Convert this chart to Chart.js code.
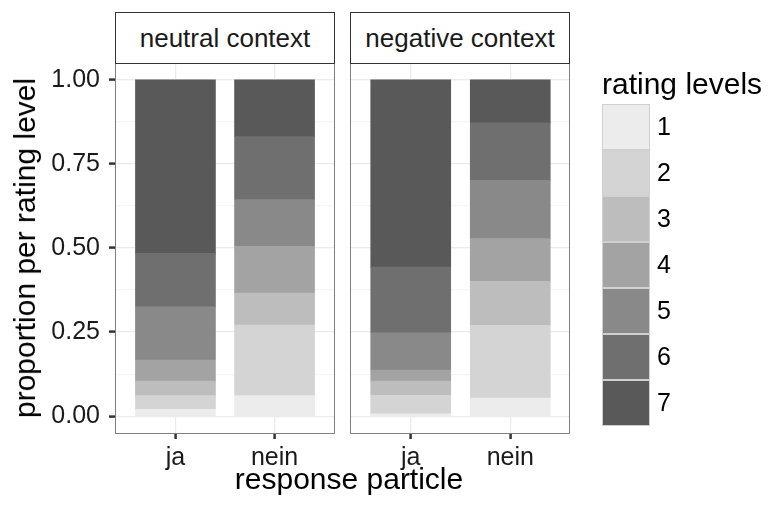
<!DOCTYPE html>
<html>
<head>
<meta charset="utf-8">
<script src="https://cdn.jsdelivr.net/npm/chart.js@4.4.1/dist/chart.umd.min.js"></script>
<style>
  body { margin: 0; background: #fff; }
  #wrap { position: relative; width: 774px; height: 510px; font-family: "Liberation Sans", Arial, sans-serif; color: #1a1a1a; }
  canvas { position: absolute; left: 0; top: 0; }
  .strip { position: absolute; top: 12px; height: 50px; border: 1px solid #333; background: #fff;
           font-size: 26px; text-align: center; line-height: 50px; color: #1a1a1a; }
  .panel { position: absolute; top: 63px; height: 369px; border: 1.5px solid #7f7f7f; pointer-events: none; }
  .title { position: absolute; font-size: 30px; white-space: nowrap; color: #000; }
  #legend { position: absolute; left: 602px; top: 104px; }
  .key { position: relative; width: 46px; height: 44px; border: 1px solid #d0d0d0; }
  .key span { position: absolute; left: 54px; top: 7px; font-size: 25px; color: #000; }
</style>
</head>
<body>
<div id="wrap">
  <canvas id="left" width="774" height="510"></canvas>
  <canvas id="right" width="774" height="510"></canvas>
  <div class="panel" style="left:115px;width:218px"></div>
  <div class="panel" style="left:350px;width:218px"></div>
  <div class="strip" style="left:115px;width:218px">neutral context</div>
  <div class="strip" style="left:350px;width:218px">negative context</div>
  <div class="title" style="left:349px;top:462px;transform:translateX(-50%)">response particle</div>
  <div class="title" style="left:25px;top:248px;transform:translate(-50%,-50%) rotate(-90deg)">proportion per rating level</div>
  <div class="title" style="left:602px;top:67px">rating levels</div>
  <div id="legend"></div>
</div>
<script>
// rating levels, bottom of the stack first
const levels = ['1', '2', '3', '4', '5', '6', '7'];
const levelColors = ['#ececec', '#d4d4d4', '#bdbdbd', '#a3a3a3', '#898989', '#6f6f6f', '#595959'];
const particles = ['ja', 'nein'];

// proportions per level (1..7)
const neutralJa    = [0.020, 0.041, 0.043, 0.063, 0.158, 0.159, 0.516];
const neutralNein  = [0.061, 0.210, 0.095, 0.139, 0.139, 0.187, 0.169];
const negativeJa   = [0.007, 0.055, 0.042, 0.033, 0.111, 0.195, 0.557];
const negativeNein = [0.054, 0.216, 0.131, 0.127, 0.173, 0.171, 0.128];

const yTicks = [0, 0.125, 0.25, 0.375, 0.5, 0.625, 0.75, 0.875, 1];
const yLabels = { 0: '0.00', 0.25: '0.25', 0.5: '0.50', 0.75: '0.75', 1: '1.00' };

const tickFont = { family: '"Liberation Sans", Arial, sans-serif', size: 25 };
const isMajor = v => yLabels[v] !== undefined;

function makeDatasets(ja, nein) {
    return levels.map((lv, i) => ({
        label: lv,
        data: [{ x: 1, y: ja[i] }, { x: 2, y: nein[i] }],
        backgroundColor: levelColors[i],
        borderWidth: 0,
        barThickness: 80,
    }));
}

function makeChart(id, ja, nein, showY, padLeft, padRight) {
    return new Chart(document.getElementById(id), {
        type: 'bar',
        data: { datasets: makeDatasets(ja, nein) },
        options: {
            responsive: false,
            animation: false,
            layout: { padding: { left: padLeft, right: padRight, top: 63, bottom: 37 } },
            plugins: { legend: { display: false }, tooltip: { enabled: false } },
            scales: {
                x: {
                    type: 'linear', stacked: true, min: 0.4, max: 2.6, offset: false,
                    afterBuildTicks: s => { s.ticks = [{ value: 1 }, { value: 2 }]; },
                    afterFit: s => { s.height = 40; },
                    grid: { offset: false, color: '#ebebeb', lineWidth: 1.2, tickColor: '#333', tickLength: 6, tickWidth: 2.5 },
                    border: { display: false },
                    ticks: { font: tickFont, color: '#1a1a1a', padding: 4, maxRotation: 0,
                             callback: v => particles[v - 1] || '' },
                },
                y: {
                    stacked: true, min: -0.05, max: 1.05,
                    afterBuildTicks: s => { s.ticks = yTicks.map(v => ({ value: v })); },
                    afterFit: s => { s.width = showY ? 116 : 0; },
                    grid: {
                        color: c => isMajor(c.tick.value) ? '#ebebeb' : '#f6f6f6',
                        lineWidth: 1.2,
                        drawTicks: showY,
                        tickColor: c => isMajor(c.tick.value) ? '#333' : 'rgba(0,0,0,0)',
                        tickLength: 7, tickWidth: 2.5,
                    },
                    border: { display: false },
                    ticks: { display: showY, font: tickFont, color: '#1a1a1a', padding: 9,
                             callback: v => yLabels[v] || '' },
                },
            },
        },
    });
}

makeChart('left', neutralJa, neutralNein, true, 0, 774 - 334);
makeChart('right', negativeJa, negativeNein, false, 351, 774 - 570);

const legend = document.getElementById('legend');
levels.forEach((lv, i) => {
    const k = document.createElement('div');
    k.className = 'key';
    k.style.background = levelColors[i];
    const t = document.createElement('span');
    t.textContent = lv;
    k.appendChild(t);
    legend.appendChild(k);
});
</script>
</body>
</html>
